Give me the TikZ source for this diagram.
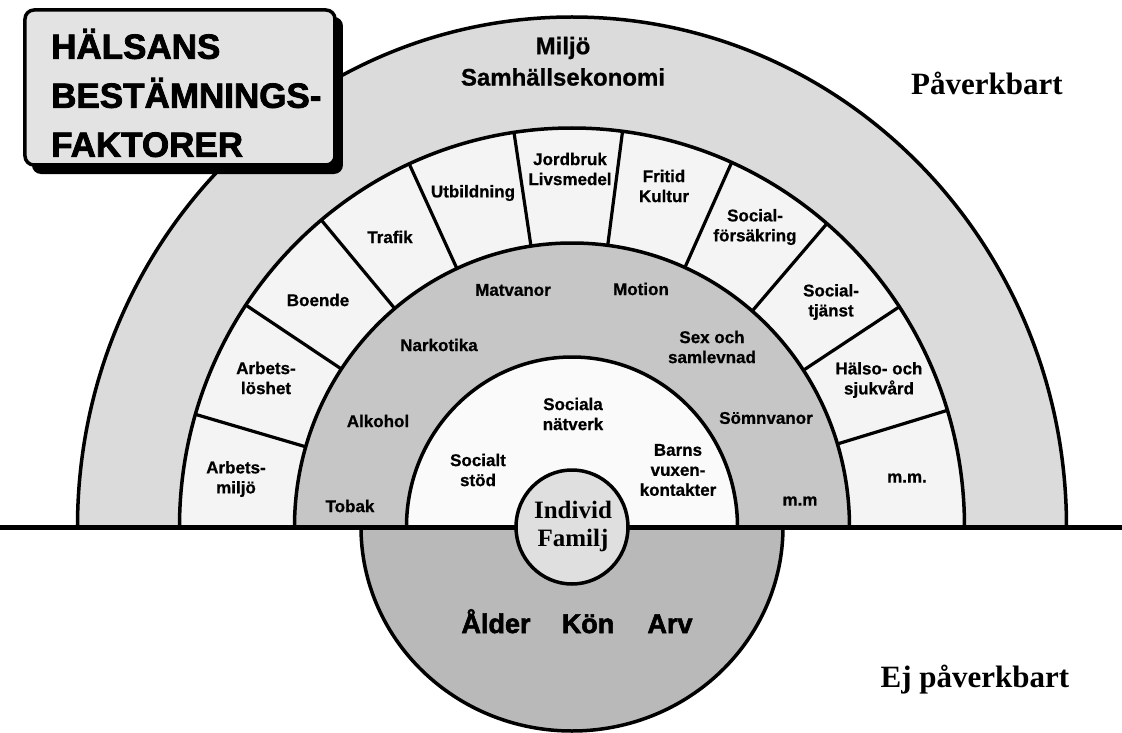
\documentclass[tikz,border=0pt]{standalone}
\usepackage{fontspec}
\setmainfont{Liberation Sans}
\newfontfamily\serifb{Liberation Serif}
\newfontfamily\heavysans[FakeBold=2.2]{Liberation Sans Bold}
\newfontfamily\medsans[FakeBold=0.8]{Liberation Sans Bold}
\begin{document}
\begin{tikzpicture}[x=1pt,y=1pt,
  lbl/.style={font=\medsans\fontsize{17}{20}\selectfont, align=center, inner sep=0pt},
  biglbl/.style={font=\medsans\fontsize{24}{29}\selectfont, align=center, inner sep=0pt},
  botlbl/.style={font=\heavysans\fontsize{27}{30}\selectfont, inner sep=0pt, anchor=base},
  serlbl/.style={font=\serifb\bfseries\fontsize{31}{36}\selectfont, inner sep=0pt},
  ringline/.style={line width=3.5pt},
  divider/.style={line width=3.2pt},
 ]
\useasboundingbox (-572,-205) rectangle (550,527);
\fill[white] (-572,-205) rectangle (550,527);

% outer ring (Miljö)
\fill[gray!28] (-494.5,0) arc[start angle=180,end angle=0,x radius=494.5pt,y radius=510pt] -- cycle;
\draw[ringline] (-494.5,0) arc[start angle=180,end angle=0,x radius=494.5pt,y radius=510pt];
% sector ring
\fill[gray!9] (-392.5,0) arc[start angle=180,end angle=0,x radius=392.5pt,y radius=399pt] -- cycle;
\draw[ringline] (-392.5,0) arc[start angle=180,end angle=0,x radius=392.5pt,y radius=399pt];
% lifestyle ring
\fill[gray!45] (-277.5,0) arc[start angle=180,end angle=0,x radius=277.5pt,y radius=284pt] -- cycle;
\draw[ringline] (-277.5,0) arc[start angle=180,end angle=0,x radius=277.5pt,y radius=284pt];
% social ring
\fill[gray!4] (-165.5,0) arc[start angle=180,end angle=0,x radius=165.5pt,y radius=170pt] -- cycle;
\draw[ringline] (-165.5,0) arc[start angle=180,end angle=0,x radius=165.5pt,y radius=170pt];

% dividers of the sector ring
\foreach \a in {163.6,146.2,129.7,114.5,98.5,82.6,66,49.5,33.5,17}
  \draw[divider] (\a:277.5pt and 284pt) -- (\a:392.5pt and 399pt);

% lower half (not influenceable)
\fill[gray!55] (-211,0) arc[start angle=180,end angle=360,x radius=211pt,y radius=204pt] -- cycle;
\draw[ringline] (-211,0) arc[start angle=180,end angle=360,x radius=211pt,y radius=204pt];

% base line
\coordinate (bl) at (-572,0);
\coordinate (br) at (550,0);
\draw[line width=5pt] (bl) -- (br);

% centre circle
\filldraw[fill=gray!25, draw=black, line width=3.5pt] (0,0) ellipse[x radius=56pt, y radius=57pt];

% texts
\node[biglbl] (miljo) at (-9,479) {Miljö};
\node[biglbl] (samh) at (-9,450) {Samhällsekonomi};

\node[lbl] (s1) at (-336,48) {Arbets-\\miljö};
\node[lbl] (s2) at (-306,149) {Arbets-\\löshet};
\node[lbl] (s3) at (-254,227) {Boende};
\node[lbl] (s4) at (-182,290) {Trafik};
\node[lbl] (s5) at (-99,334) {Utbildning};
\node[lbl] (s6) at (-2,358) {Jordbruk\\Livsmedel};
\node[lbl] (s7) at (92,341) {Fritid\\Kultur};
\node[lbl] (s8) at (183,300) {Social-\\försäkring};
\node[lbl] (s9) at (259,225) {Social-\\tjänst};
\node[lbl] (s10) at (307,147) {Hälso- och\\sjukvård};
\node[lbl] (s11) at (335,49) {m.m.};

\node[lbl] (l1) at (-222,21) {Tobak};
\node[lbl] (l2) at (-194,106) {Alkohol};
\node[lbl] (l3) at (-133,182) {Narkotika};
\node[lbl] (l4) at (-59,237) {Matvanor};
\node[lbl] (l5) at (69,238) {Motion};
\node[lbl] (l6) at (140,180) {Sex och\\samlevnad};
\node[lbl] (l7) at (194,109) {Sömnvanor};
\node[lbl] (l8) at (228,26) {m.m};

\node[lbl] (n1) at (-94,57) {Socialt\\stöd};
\node[lbl] (n2) at (1,113) {Sociala\\nätverk};
\node[lbl] (n3) at (106,57) {Barns\\vuxen-\\kontakter};

\node[font=\serifb\bfseries\fontsize{25}{28}\selectfont, align=center, inner sep=0pt] (ind) at (1,1) {Individ\\Familj};

\node[botlbl] (b1) at (-76,-106) {Ålder};
\node[botlbl] (b2) at (16,-106) {Kön};
\node[botlbl] (b3) at (98,-106) {Arv};

\node[serlbl] (pav) at (415,444) {Påverkbart};
\node[serlbl] (ejpav) at (403,-153) {Ej påverkbart};

% title box
\fill[black, rounded corners=9pt] (-540,353) rectangle (-229,510);
\filldraw[fill=gray!22, draw=black, line width=3.5pt, rounded corners=9pt] (-547,362) rectangle (-237,517);
\node[font=\heavysans\fontsize{35}{49}\selectfont, align=left, anchor=west, inner sep=0pt] (title) at (-521,434) {HÄLSANS\\BESTÄMNINGS-\\FAKTORER};
\end{tikzpicture}
\end{document}
